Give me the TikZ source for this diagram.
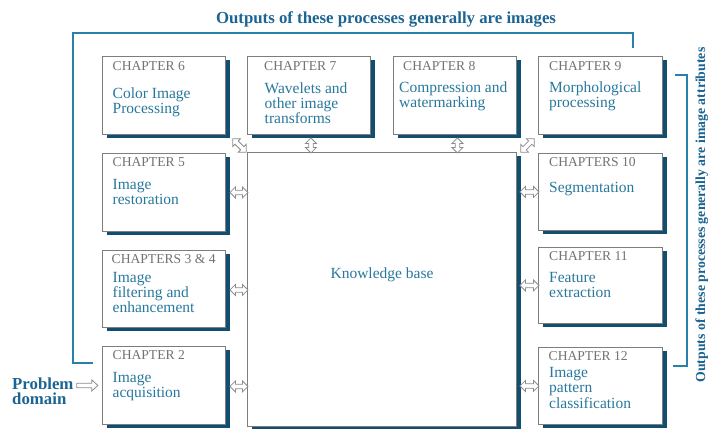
\documentclass[tikz,border=0pt]{standalone}
\usepackage{fontspec}
\setmainfont{Liberation Serif}
\usetikzlibrary{shadows,calc}

\definecolor{textblue}{RGB}{40,120,158}
\definecolor{titleblue}{RGB}{28,100,145}
\definecolor{shadowblue}{RGB}{18,78,112}
\definecolor{bracketblue}{RGB}{42,128,172}
\definecolor{boxgray}{RGB}{125,125,125}
\definecolor{labelgray}{RGB}{115,115,115}
\definecolor{arrowgray}{RGB}{140,140,140}

% stacked lines, baseline of the node = baseline of the first line
\newcommand\stacktext[2][15.4pt]{\vtop{\baselineskip=#1\lineskiplimit=-100pt\lineskip=0pt\halign{##\hfil\cr#2\crcr}}}

\tikzset{
  chbox/.style={draw=boxgray, line width=0.9pt, fill=white, anchor=north west,
    inner sep=0pt,
    drop shadow={shadow xshift=4.5pt, shadow yshift=-4pt, fill=shadowblue, opacity=1}},
  chlabel/.style={anchor=base west, inner sep=0pt, text=labelgray,
    font=\fontsize{13.6}{15}\selectfont},
  chbody/.style={anchor=base west, inner sep=0pt, text=textblue,
    font=\fontsize{15.5}{15.4}\selectfont},
  hollow/.style={draw=arrowgray, fill=white, line width=0.8pt, line join=miter},
  % hollow block arrow with a head at both ends, half length #1
  pics/dblarr/.style={code={
    \path[hollow] (-#1,0) -- (-#1+5.5,-5.5) -- (-#1+5.5,-2.3) -- (#1-5.5,-2.3)
      -- (#1-5.5,-5.5) -- (#1,0) -- (#1-5.5,5.5) -- (#1-5.5,2.3)
      -- (-#1+5.5,2.3) -- (-#1+5.5,5.5) -- cycle;}},
  % hollow block arrow pointing right, half length #1
  pics/sglarr/.style={code={
    \path[hollow] (-#1,-2.3) -- (#1-6,-2.3) -- (#1-6,-5.5) -- (#1,0)
      -- (#1-6,5.5) -- (#1-6,2.3) -- (-#1,2.3) -- cycle;}},
  bracket/.style={draw=bracketblue, line width=2pt},
  heading/.style={text=titleblue, inner sep=0pt, font=\bfseries\fontsize{16.8}{18}\selectfont},
}

\begin{document}
\begin{tikzpicture}[x=1pt, y=-1pt]
\useasboundingbox (0,0) rectangle (708,428);

% feedback brackets
\coordinate (tb0) at (93,363);
\coordinate (tb1) at (633,48);
\draw[bracket] (tb0) -| (73,33) -| (tb1);
\coordinate (rb0) at (675,75);
\coordinate (rb1) at (673,366);
\draw[bracket] (rb0) -| (687,366) -- (rb1);

% headings
\node[heading, anchor=base] (title) at (386,24) {Outputs of these processes generally are images};
\node[heading, anchor=base, rotate=90, font=\bfseries\fontsize{13.8}{15}\selectfont] (side) at (705,215)
  {Outputs of these processes generally are image attributes};

% knowledge base
\node[chbox, minimum width=269pt, minimum height=274pt] (kb) at (247,152) {};
\node[chbody, anchor=base] (kbl) at (382,278) {Knowledge base};

% chapter boxes
\node[chbox, minimum width=123pt, minimum height=78pt] (c6) at (102,56) {};
\node[chbox, minimum width=123pt, minimum height=78pt] (c7) at (247,56) {};
\node[chbox, minimum width=123pt, minimum height=78pt] (c8) at (393,56) {};
\node[chbox, minimum width=124pt, minimum height=78pt] (c9) at (538,56) {};
\node[chbox, minimum width=123pt, minimum height=78pt] (c5) at (102,153) {};
\node[chbox, minimum width=123pt, minimum height=77pt] (c34) at (102,250) {};
\node[chbox, minimum width=123pt, minimum height=78pt] (c2) at (102,346) {};
\node[chbox, minimum width=124pt, minimum height=77pt] (c10) at (538,153) {};
\node[chbox, minimum width=124pt, minimum height=76pt] (c11) at (538,247) {};
\node[chbox, minimum width=124pt, minimum height=77pt] (c12) at (538,347) {};

% box texts
\node[chlabel] (c6l) at ($(c6.north west)+(10.5,14)$) {CHAPTER 6};
\node[chbody] (c6b) at ($(c6.north west)+(10.5,42)$) {\stacktext{Color Image\cr Processing}};
\node[chlabel] (c7l) at ($(c7.north west)+(17,14)$) {CHAPTER 7};
\node[chbody] (c7b) at ($(c7.north west)+(17.5,37)$) {\stacktext{Wavelets and\cr other image\cr transforms}};
\node[chlabel] (c8l) at ($(c8.north west)+(10,14)$) {CHAPTER 8};
\node[chbody] (c8b) at ($(c8.north west)+(6,36.5)$) {\stacktext{Compression and\cr watermarking}};
\node[chlabel] (c9l) at ($(c9.north west)+(11,14)$) {CHAPTER 9};
\node[chbody] (c9b) at ($(c9.north west)+(11,36.5)$) {\stacktext{Morphological\cr processing}};
\node[chlabel] (c5l) at ($(c5.north west)+(10.5,13.5)$) {CHAPTER 5};
\node[chbody] (c5b) at ($(c5.north west)+(10.5,36)$) {\stacktext{Image\cr restoration}};
\node[chlabel] (c34l) at ($(c34.north west)+(9.5,13.5)$) {CHAPTERS 3 \& 4};
\node[chbody] (c34b) at ($(c34.north west)+(10.5,32)$) {\stacktext{Image\cr filtering and\cr enhancement}};
\node[chlabel] (c2l) at ($(c2.north west)+(10.5,13)$) {CHAPTER 2};
\node[chbody] (c2b) at ($(c2.north west)+(10.5,36)$) {\stacktext{Image\cr acquisition}};
\node[chlabel] (c10l) at ($(c10.north west)+(11,13)$) {CHAPTERS 10};
\node[chbody] (c10b) at ($(c10.north west)+(11,39)$) {Segmentation};
\node[chlabel] (c11l) at ($(c11.north west)+(11,13)$) {CHAPTER 11};
\node[chbody] (c11b) at ($(c11.north west)+(11,35)$) {\stacktext{Feature\cr extraction}};
\node[chlabel] (c12l) at ($(c12.north west)+(10.5,13)$) {CHAPTER 12};
\node[chbody] (c12b) at ($(c12.north west)+(11,30.5)$) {\stacktext{Image\cr pattern\cr classification}};

% problem domain input
\node[heading, anchor=base west] (pd) at (12,389) {\stacktext[15.8pt]{Problem\cr domain}};
\pic (pin) at ($(pd.east |- c2.west)!0.5!(c2.west)+(-0.5,0)$) {sglarr=10.5};

% links to the knowledge base
\pic (a5)  at ($(c5.east)!0.5!(kb.west |- c5.east)+(2.5,0)$) {dblarr=9};
\pic (a34) at ($(c34.east)!0.5!(kb.west |- c34.east)+(2.5,1)$) {dblarr=9};
\pic (a2)  at ($(c2.east)!0.5!(kb.west |- c2.east)+(2.5,1)$) {dblarr=9};
\pic (a10) at ($(c10.west)!0.5!(kb.east |- c10.west)+(2,0)$) {dblarr=9.5};
\pic (a11) at ($(c11.west)!0.5!(kb.east |- c11.west)+(2,0)$) {dblarr=9.5};
\pic (a12) at ($(c12.west)!0.5!(kb.east |- c12.west)+(2,0)$) {dblarr=9.5};
\pic[rotate=90] (a7) at ($(c7.south)!0.5!(c7.south |- kb.north)+(2,2)$) {dblarr=7.5};
\pic[rotate=90] (a8) at ($(c8.south)!0.5!(c8.south |- kb.north)+(2.5,2)$) {dblarr=7.5};
\pic[rotate=-45] (a6) at ($(c6.south east)!0.5!(kb.north west)+(3,2)$) {dblarr=9.5};
\pic[rotate=45] (a9) at ($(c9.south west)!0.5!(kb.north east)+(0,2)$) {dblarr=9.5};
\end{tikzpicture}
\end{document}
